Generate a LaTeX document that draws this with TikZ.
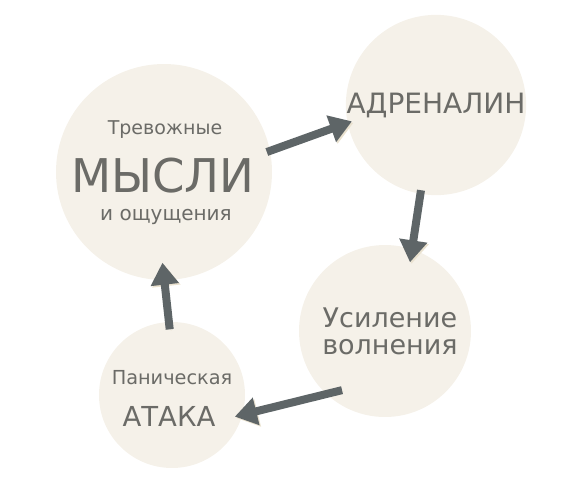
\documentclass[tikz,border=0pt]{standalone}
\usepackage{fontspec}
\setmainfont{DejaVu Sans}
\usetikzlibrary{arrows.meta,calc,positioning}
\definecolor{bubblefill}{HTML}{F5F1E9}
\definecolor{pfeilgrau}{HTML}{5E6567}
\definecolor{textgrau}{HTML}{6B6B67}
\definecolor{schatten}{HTML}{EAE2D0}

\begin{document}
\begin{tikzpicture}[x=1pt,y=-1pt,
      bubble/.style={circle, fill=bubblefill, draw=none, inner sep=0pt, outer sep=0pt, align=center},
      pfeil/.style={draw=pfeilgrau, line width=8pt, -{Triangle[length=22pt,width=27pt]},
         preaction={draw=schatten, transform canvas={shift={(1.5pt,-1.5pt)}}}},
      every node/.style={text=textgrau}]
      \path[use as bounding box] (0,0) rectangle (576,479);
      % kreise
      \node[bubble, minimum size=216pt] (m) at (164,172) {};
      \node[bubble, minimum size=180pt, font=\fontsize{28}{32}\selectfont] (a) at (436,105) {АДРЕНАЛИН};
      \node[bubble, minimum size=172pt] (u) at (385,331) {};
      \node[bubble, minimum size=146pt] (p) at (172,395) {};
      % texte
      \node[anchor=base, font=\fontsize{19}{22}\selectfont] (m1) at (165,134) {Тревожные};
      \node[anchor=base, font=\fontsize{46.5}{50}\selectfont] (m2) at (163,192) {МЫСЛИ};
      \node[anchor=base, font=\fontsize{20}{22}\selectfont] (m3) at (166,220) {и ощущения};
      \node[align=center, font=\fontsize{27}{27}\selectfont] (u1) at (390,331) {Усиление\\волнения};
      \node[anchor=base, font=\fontsize{19.3}{22}\selectfont] (p1) at (172,384) {Паническая};
      \node[anchor=base, font=\fontsize{27.5}{30}\selectfont] (p2) at (169,426) {АТАКА};
      % pfeile
      \draw[pfeil] ($(m)!0.97!(m.11)$) -- ($(a)!0.95!(a.191)$);
      \draw[pfeil] ($(a)!0.96!(a.260)$) -- ($(u)!0.85!(u.70)$);
      \draw[pfeil] ($(u)!0.85!(u.234)$) -- ($(p)!0.91!(p.341)$);
      \draw[pfeil] ($(p)!0.9!(p.92)$) -- ($(m)!0.84!(m.269)$);
\end{tikzpicture}
\end{document}
